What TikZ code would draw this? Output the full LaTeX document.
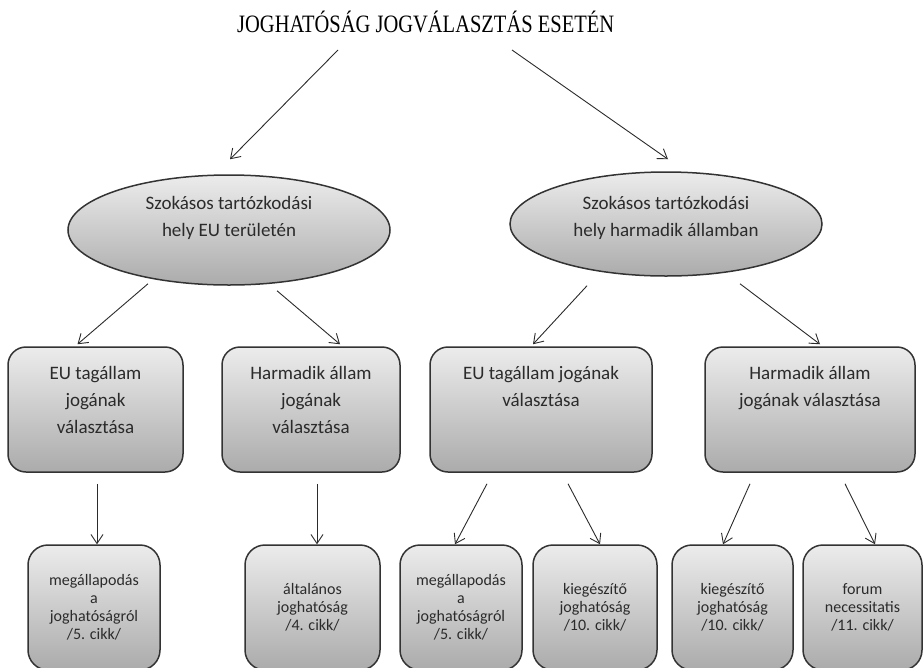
\documentclass[tikz,border=0pt]{standalone}
\usepackage{fontspec}
\setmainfont{Liberation Serif}
\newfontfamily\titlefont{Liberation Serif}[FakeStretch=0.82]
\newfontfamily\boxfont{Carlito}
\usetikzlibrary{arrows.meta,positioning,shapes.geometric}
\definecolor{edge}{HTML}{333333}
\definecolor{shadetop}{HTML}{ECECEC}
\definecolor{shadebot}{HTML}{ABABAB}
\definecolor{ink}{HTML}{2B2B2B}
\tikzset{
  place/.style={ellipse, draw=edge, line width=1.5pt, top color=shadetop, bottom color=shadebot,
                inner sep=0pt, align=center, text=ink, font=\boxfont\fontsize{19}{27}\selectfont},
  choice/.style={draw=edge, line width=1.5pt, rounded corners=18pt, top color=shadetop,
                 bottom color=shadebot, inner sep=0pt, minimum height=125pt, align=center,
                 text=ink, text depth=19pt, font=\boxfont\fontsize{19}{27}\selectfont},
  rulebox/.style={draw=edge, line width=1.5pt, rounded corners=20pt, top color=shadetop,
                  bottom color=shadebot, inner sep=0pt, minimum height=125pt, align=center,
                  text=ink, font=\boxfont\fontsize{16}{18}\selectfont},
  arrow/.style={-{Straight Barb[length=9pt,width=12pt]}, line width=0.9pt, draw=ink}
}
\begin{document}
\begin{tikzpicture}[x=1pt,y=-1pt]
        \clip (0,0) rectangle (923,667);
        \node[font=\titlefont\fontsize{25}{28}\selectfont,inner sep=0pt,anchor=base west] (title) at (237,32)
          {JOGHATÓSÁG JOGVÁLASZTÁS ESETÉN};

        \node[place,minimum width=322pt,minimum height=110pt,text depth=28pt] (euhome) at (229,230)
          {Szokásos tartózkodási\\hely EU területén};
        \node[place,minimum width=312pt,minimum height=104pt,text depth=16pt] (thirdhome) at (666,224)
          {Szokásos tartózkodási\\hely harmadik államban};

        \node[choice,minimum width=175pt] (euchoice1) at (95.5,409.5)
          {EU tagállam\\jogának\\választása};
        \node[choice,minimum width=178pt] (thirdchoice1) at (311,409.5)
          {Harmadik állam\\jogának\\választása};
        \node[choice,minimum width=222pt] (euchoice2) at (541,409.5)
          {EU tagállam jogának\\választása\\\mbox{}};
        \node[choice,minimum width=210pt] (thirdchoice2) at (810,409.5)
          {Harmadik állam\\jogának választása\\\mbox{}};

        \node[rulebox,minimum width=132pt] (agree1) at (94,607.5)
          {megállapodás\\a\\joghatóságról\\/5. cikk/};
        \node[rulebox,minimum width=135pt] (general) at (312.5,607.5)
          {általános\\joghatóság\\/4. cikk/};
        \node[rulebox,minimum width=122pt] (agree2) at (461,607.5)
          {megállapodás\\a\\joghatóságról\\/5. cikk/};
        \node[rulebox,minimum width=124pt] (supp1) at (595,607.5)
          {kiegészítő\\joghatóság\\/10. cikk/};
        \node[rulebox,minimum width=121pt] (supp2) at (732.5,607.5)
          {kiegészítő\\joghatóság\\/10. cikk/};
        \node[rulebox,minimum width=119pt] (forum) at (862.5,607.5)
          {forum\\necessitatis\\/11. cikk/};

        \draw[arrow] ([xshift=101pt,yshift=-18pt]title.base west) -- ([xshift=1pt,yshift=15pt]euhome.north);
        \draw[arrow] ([xshift=275pt,yshift=-18pt]title.base west) -- ([xshift=2pt,yshift=12pt]thirdhome.north);

        \draw[arrow] ([xshift=-81pt,yshift=2pt]euhome.south) -- ([xshift=-18pt,yshift=2pt]euchoice1.north);
        \draw[arrow] ([xshift=48pt,yshift=-5pt]euhome.south) -- ([xshift=29pt,yshift=2pt]thirdchoice1.north);
        \draw[arrow] ([xshift=-79pt,yshift=-9pt]thirdhome.south) -- ([xshift=-8pt,yshift=2pt]euchoice2.north);
        \draw[arrow] ([xshift=74pt,yshift=-7pt]thirdhome.south) -- ([xshift=10pt,yshift=2pt]thirdchoice2.north);

        \draw[arrow] ([xshift=1.5pt,yshift=-11pt]euchoice1.south) -- ([xshift=3pt]agree1.north);
        \draw[arrow] ([xshift=6pt,yshift=-11pt]thirdchoice1.south) -- ([xshift=4.5pt]general.north);
        \draw[arrow] ([xshift=-54pt,yshift=-11pt]euchoice2.south) -- ([xshift=-6pt]agree2.north);
        \draw[arrow] ([xshift=27pt,yshift=-11pt]euchoice2.south) -- ([xshift=5pt]supp1.north);
        \draw[arrow] ([xshift=-60pt,yshift=-11pt]thirdchoice2.south) -- ([xshift=-9.5pt]supp2.north);
        \draw[arrow] ([xshift=35pt,yshift=-11pt]thirdchoice2.south) -- ([xshift=12.5pt]forum.north);
      \end{tikzpicture}
\end{document}
